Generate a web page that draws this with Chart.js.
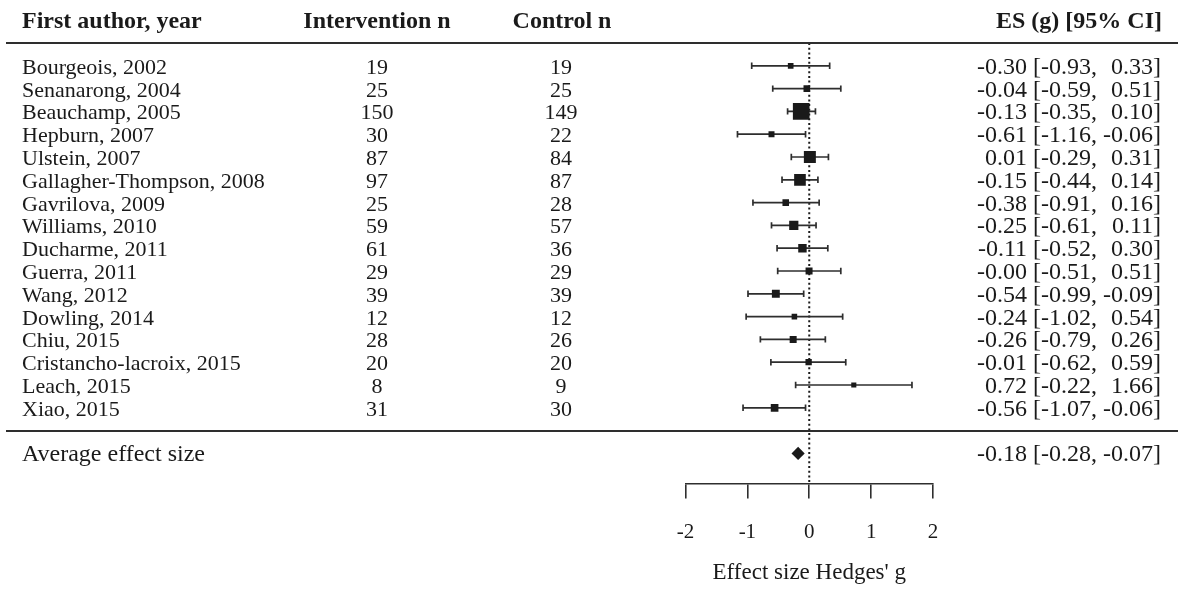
<!DOCTYPE html>
<html>
<head>
<meta charset="utf-8">
<script src="https://cdn.jsdelivr.net/npm/chart.js@4.4.1/dist/chart.umd.min.js"></script>
<style>
  body { margin: 0; background: #fff; }
  #wrap { width: 1178px; height: 592px; }
</style>
</head>
<body>
<div id="wrap"><canvas id="forest" width="1178" height="592"></canvas></div>
<script>
// study table
const studies = [
  "Bourgeois, 2002", "Senanarong, 2004", "Beauchamp, 2005", "Hepburn, 2007",
  "Ulstein, 2007", "Gallagher-Thompson, 2008", "Gavrilova, 2009", "Williams, 2010",
  "Ducharme, 2011", "Guerra, 2011", "Wang, 2012", "Dowling, 2014",
  "Chiu, 2015", "Cristancho-lacroix, 2015", "Leach, 2015", "Xiao, 2015"
];
const nIntervention = [19, 25, 150, 30, 87, 97, 25, 59, 61, 29, 39, 12, 28, 20, 8, 31];
const nControl = [19, 25, 149, 22, 84, 87, 28, 57, 36, 29, 39, 12, 26, 20, 9, 30];
const es = [-0.30, -0.04, -0.13, -0.61, 0.01, -0.15, -0.38, -0.25, -0.11, -0.003, -0.54, -0.24, -0.26, -0.01, 0.72, -0.56];
const ciLow = [-0.93, -0.59, -0.35, -1.16, -0.29, -0.44, -0.91, -0.61, -0.52, -0.51, -0.99, -1.02, -0.79, -0.62, -0.22, -1.07];
const ciHigh = [0.33, 0.51, 0.10, -0.06, 0.31, 0.14, 0.16, 0.11, 0.30, 0.51, -0.09, 0.54, 0.26, 0.59, 1.66, -0.06];
// relative study weight
const boxWeight = [0.51, 0.59, 1.5, 0.54, 1.08, 1.05, 0.59, 0.83, 0.76, 0.63, 0.71, 0.5, 0.63, 0.57, 0.46, 0.69];

// pooled estimate
const avgLabel = "Average effect size";
const avgEs = -0.18;
const avgLow = -0.28;
const avgHigh = -0.07;

const headers = ["First author, year", "Intervention n", "Control n", "ES (g) [95% CI]"];
const xTicks = [-2, -1, 0, 1, 2];
const xTitle = "Effect size Hedges' g";

const FONT = '"Liberation Serif", "Times New Roman", serif';
const INK = "#1a1a1a";
const LINE = "#2e2e2e";

// row index: studies 0..15, rule at 16, pooled row at 17
const ruleRow = studies.length;
const avgRow = studies.length + 1;

function fmt(v) {
  return v.toFixed(2);
}

const tablePlugin = {
  id: "table",
  afterDraw(chart) {
    const { ctx } = chart;
    const y = chart.scales.y;
    const W = chart.width;
    ctx.save();

    // horizontal rules
    ctx.strokeStyle = LINE;
    ctx.lineWidth = 2;
    [-1, ruleRow].forEach(v => {
      const py = Math.round(y.getPixelForValue(v));
      ctx.beginPath();
      ctx.moveTo(6, py);
      ctx.lineTo(W, py);
      ctx.stroke();
    });

    ctx.fillStyle = INK;
    ctx.textBaseline = "alphabetic";

    // headers
    const hy = y.getPixelForValue(-2) + 8;
    ctx.font = "bold 24px " + FONT;
    ctx.textAlign = "left";
    ctx.fillText(headers[0], 22, hy);
    ctx.textAlign = "center";
    ctx.fillText(headers[1], 377, hy);
    ctx.fillText(headers[2], 562, hy);
    ctx.textAlign = "right";
    ctx.fillText(headers[3], 1162, hy);

    // effect size column, pieces aligned like the original
    const drawCi = (est, lo, hi, py) => {
      ctx.font = "24px " + FONT;
      ctx.textAlign = "right";
      ctx.fillText(fmt(est), 1027, py);
      ctx.textAlign = "left";
      ctx.fillText("[" + fmt(lo) + ",", 1033, py);
      ctx.textAlign = "right";
      ctx.fillText(fmt(hi), 1153, py);
      ctx.textAlign = "left";
      ctx.fillText("]", 1153, py);
    };

    studies.forEach((name, i) => {
      const py = y.getPixelForValue(i) + 8;
      ctx.font = "22px " + FONT;
      ctx.textAlign = "left";
      ctx.fillText(name, 22, py);
      ctx.textAlign = "center";
      ctx.fillText(String(nIntervention[i]), 377, py);
      ctx.fillText(String(nControl[i]), 561, py);
      drawCi(es[i], ciLow[i], ciHigh[i], py);
    });

    const ay = y.getPixelForValue(avgRow) + 8;
    ctx.font = "24px " + FONT;
    ctx.textAlign = "left";
    ctx.fillText(avgLabel, 22, ay);
    drawCi(avgEs, avgLow, avgHigh, ay);

    ctx.restore();
  }
};

// error bars, one small line per study, caps as rotated line points
const ciSets = studies.map((s, i) => ({
  type: "line",
  data: [{ x: ciLow[i], y: i }, { x: ciHigh[i], y: i }],
  borderColor: LINE,
  borderWidth: 1.7,
  pointStyle: "line",
  pointRotation: 90,
  pointRadius: 3.2,
  pointBorderWidth: 1.7,
  pointBorderColor: LINE
}));

const ctx = document.getElementById("forest").getContext("2d");
new Chart(ctx, {
  type: "scatter",
  data: {
    datasets: [
      {
        // pooled estimate
        data: [{ x: avgEs, y: avgRow }],
        pointStyle: "rectRot",
        pointRadius: 6.6,
        backgroundColor: INK,
        borderWidth: 0
      },
      {
        // study estimates
        data: es.map((v, i) => ({ x: v, y: i })),
        pointStyle: "rect",
        pointRadius: boxWeight.map(w => w * 7.85),
        backgroundColor: INK,
        borderWidth: 0
      },
      ...ciSets,
      {
        // line of no effect
        type: "line",
        data: [{ x: 0, y: -1 }, { x: 0, y: 19 }],
        borderColor: INK,
        borderWidth: 2,
        borderDash: [2, 2.7],
        pointRadius: 0
      }
    ]
  },
  options: {
    responsive: false,
    animation: false,
    events: [],
    layout: { padding: { left: 685.5, right: 245, top: 43, bottom: 0 } },
    plugins: {
      legend: { display: false },
      tooltip: { enabled: false }
    },
    scales: {
      x: {
        type: "linear",
        position: "bottom",
        min: -2,
        max: 2,
        afterFit(scale) { scale.height = 108.5; },
        afterBuildTicks(scale) { scale.ticks = xTicks.map(v => ({ value: v })); },
        ticks: {
          color: INK,
          padding: 21,
          font: { family: FONT, size: 21 },
          callback: v => String(v)
        },
        grid: {
          drawOnChartArea: false,
          drawTicks: true,
          tickLength: 15,
          color: LINE,
          lineWidth: 1.6
        },
        border: { display: true, color: LINE, width: 1.6 },
        title: {
          display: true,
          text: xTitle,
          color: INK,
          font: { family: FONT, size: 23 },
          padding: { top: 0, bottom: 5 }
        }
      },
      y: {
        type: "linear",
        display: false,
        reverse: true,
        min: -1,
        max: 18.32
      }
    }
  },
  plugins: [tablePlugin]
});
</script>
</body>
</html>
